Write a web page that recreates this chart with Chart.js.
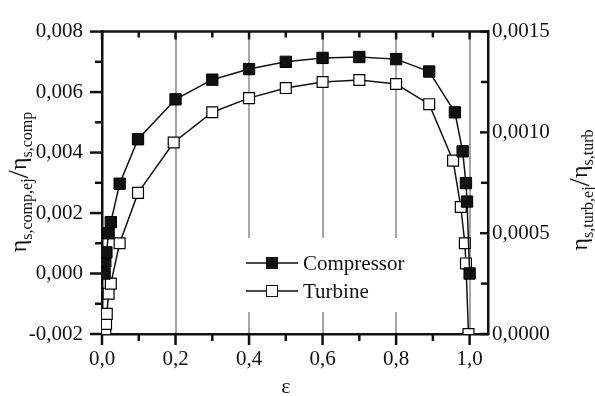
<!DOCTYPE html>
<html>
<head>
<meta charset="utf-8">
<script src="https://cdn.jsdelivr.net/npm/chart.js@4"></script>
<style>
  html, body { margin: 0; padding: 0; background: #fff; }
  #wrap { width: 595px; height: 396px; position: relative; }
</style>
</head>
<body>
<div id="wrap"><canvas id="chart" width="595" height="396"></canvas></div>
<script>
// ---------- data ----------
const epsComp = [0.007, 0.009, 0.012, 0.018, 0.024, 0.048, 0.098, 0.2, 0.3, 0.4, 0.5, 0.6, 0.7, 0.8, 0.89, 0.96, 0.981, 0.99, 0.993, 1.0];
const compValues = [0.0, 0.0004, 0.0007, 0.00133, 0.0017, 0.00297, 0.00444, 0.00576, 0.00641, 0.00676, 0.0070, 0.00713, 0.00716, 0.00709, 0.00668, 0.00533, 0.00404, 0.00299, 0.00238, 0.0];

const epsTurb = [0.009, 0.011, 0.013, 0.018, 0.024, 0.048, 0.098, 0.195, 0.3, 0.4, 0.5, 0.6, 0.7, 0.8, 0.89, 0.955, 0.976, 0.987, 0.99, 0.997];
const turbValues = [0.0, 0.00005, 0.0001, 0.0002, 0.00025, 0.00045, 0.0007, 0.00095, 0.0011, 0.00117, 0.00122, 0.00125, 0.00126, 0.00124, 0.00114, 0.00086, 0.00063, 0.00045, 0.00035, 0.0];

const legendLabels = ['Compressor', 'Turbine'];
const xTickLabels = ['0,0', '0,2', '0,4', '0,6', '0,8', '1,0'];
const leftTickLabels = ['-0,002', '0,000', '0,002', '0,004', '0,006', '0,008'];
const rightTickLabels = ['0,0000', '0,0005', '0,0010', '0,0015'];

const FONT = '"Liberation Serif", "Times New Roman", serif';
const ink = '#111';

function toPoints(xs, ys){ return xs.map((x, i) => ({ x, y: ys[i] })); }

// ---------- helpers for ticks / titles ----------
function drawSubTitle(ctx, cx, cy, main, sub1, sub2){
  ctx.save();
  ctx.translate(cx, cy);
  ctx.rotate(-Math.PI / 2);
  ctx.fillStyle = ink;
  ctx.textBaseline = 'alphabetic';
  ctx.textAlign = 'left';
  const big = `24px ${FONT}`, small = `16px ${FONT}`, slash = `30px ${FONT}`;
  const parts = [
    [main, big, 0], [sub1, small, 6], ['/', slash, 2], [main, big, 0], [sub2, small, 6]
  ];
  let total = 0;
  parts.forEach(p => { ctx.font = p[1]; total += ctx.measureText(p[0]).width; });
  let x = -total / 2;
  parts.forEach(p => {
    ctx.font = p[1];
    ctx.fillText(p[0], x, p[2]);
    x += ctx.measureText(p[0]).width;
  });
  ctx.restore();
}

const framePlugin = {
  id: 'frame',
  beforeDatasetsDraw(chart){
    // white box behind the legend hides the grid lines
    const { ctx } = chart;
    ctx.save();
    ctx.fillStyle = '#fff';
    ctx.fillRect(238, 238, 184, 74);
    ctx.restore();
  },
  afterDatasetsDraw(chart){
    const { ctx, chartArea: a, scales } = chart;
    const xs = scales.x, yl = scales.y, yr = scales.y1;
    ctx.save();
    ctx.strokeStyle = ink;
    ctx.lineCap = 'butt';

    // top frame line
    ctx.lineWidth = 2.5;
    ctx.beginPath();
    ctx.moveTo(a.left - 1, a.top);
    ctx.lineTo(a.right + 1, a.top);
    ctx.stroke();

    // x ticks: outward at bottom, inward at top
    for (let i = 0; i <= 10; i++){
      const px = xs.getPixelForValue(i / 10);
      const major = i % 2 === 0;
      ctx.lineWidth = 2.5;
      ctx.beginPath();
      ctx.moveTo(px, a.bottom); ctx.lineTo(px, a.bottom + (major ? 11 : 7));
      ctx.moveTo(px, a.top); ctx.lineTo(px, a.top + (major ? 8 : 6));
      ctx.stroke();
    }
    // left ticks outward
    for (let i = -2; i <= 8; i++){
      const py = yl.getPixelForValue(i / 1000);
      const major = (i + 2) % 2 === 0;
      ctx.beginPath();
      ctx.moveTo(a.left, py); ctx.lineTo(a.left - (major ? 12 : 7), py);
      ctx.stroke();
    }
    // right ticks inward
    for (let i = 0; i <= 6; i++){
      const py = yr.getPixelForValue(i * 0.00025);
      const major = i % 2 === 0;
      ctx.beginPath();
      ctx.moveTo(a.right, py); ctx.lineTo(a.right - (major ? 8 : 7), py);
      ctx.stroke();
    }

    // legend
    const rows = [
      { y: 263, fill: ink, label: legendLabels[0] },
      { y: 291, fill: '#fff', label: legendLabels[1] }
    ];
    rows.forEach(r => {
      ctx.lineWidth = 1.5;
      ctx.strokeStyle = ink;
      ctx.beginPath();
      ctx.moveTo(246, r.y); ctx.lineTo(298, r.y);
      ctx.stroke();
      ctx.fillStyle = r.fill;
      ctx.fillRect(266.5, r.y - 5.5, 11, 11);
      ctx.lineWidth = 1;
      ctx.strokeRect(266.5, r.y - 5.5, 11, 11);
      ctx.fillStyle = ink;
      ctx.font = `21px ${FONT}`;
      ctx.textBaseline = 'middle';
      ctx.textAlign = 'left';
      ctx.fillText(r.label, 303, r.y + 1);
    });

    // axis titles
    ctx.font = `22px ${FONT}`;
    ctx.textAlign = 'center';
    ctx.textBaseline = 'alphabetic';
    ctx.fillText('ε', xs.getPixelForValue(0.5), 393);
    ctx.restore();

    drawSubTitle(ctx, 26, 182, 'η', 's,comp,ej', 's,comp');
    drawSubTitle(ctx, 587, 190, 'η', 's,turb,ej', 's,turb');
  }
};

const tickFont = { family: FONT, size: 21 };

new Chart(document.getElementById('chart'), {
  type: 'line',
  data: {
    datasets: [
      {
        label: legendLabels[0],
        data: toPoints(epsComp, compValues),
        yAxisID: 'y',
        borderColor: ink,
        borderWidth: 1.5,
        pointStyle: 'rect',
        pointRadius: 8,
        pointBackgroundColor: ink,
        pointBorderColor: '#000',
        pointBorderWidth: 1,
        tension: 0
      },
      {
        label: legendLabels[1],
        data: toPoints(epsTurb, turbValues),
        yAxisID: 'y1',
        borderColor: ink,
        borderWidth: 1.5,
        pointStyle: 'rect',
        pointRadius: 7.7,
        pointBackgroundColor: '#fff',
        pointBorderColor: '#000',
        pointBorderWidth: 1.2,
        tension: 0
      }
    ]
  },
  options: {
    responsive: false,
    animation: false,
    layout: { padding: { top: 23, left: 0, right: 0, bottom: 0 } },
    plugins: { legend: { display: false }, tooltip: { enabled: false } },
    scales: {
      x: {
        type: 'linear',
        min: 0,
        max: 1.05,
        afterFit: s => { s.height = 62; },
        ticks: {
          stepSize: 0.1,
          includeBounds: false,
          autoSkip: false,
          maxRotation: 0,
          padding: 13,
          color: ink,
          font: tickFont,
          callback: v => {
            const k = Math.round(v * 10);
            return (k % 2 === 0 && k <= 10) ? xTickLabels[k / 2] : '';
          }
        },
        grid: {
          drawTicks: false,
          lineWidth: 2,
          color: c => {
            const k = Math.round(c.tick.value * 10);
            return (k > 0 && k % 2 === 0 && k <= 10) ? '#a6a6a6' : 'transparent';
          }
        },
        border: { display: true, color: ink, width: 2.5 }
      },
      y: {
        position: 'left',
        min: -0.002,
        max: 0.008,
        afterFit: s => { s.width = 102; },
        ticks: {
          stepSize: 0.001,
          includeBounds: false,
          autoSkip: false,
          padding: 19,
          color: ink,
          font: tickFont,
          callback: v => {
            const k = Math.round(v * 1000);
            return ((k + 2) % 2 === 0) ? leftTickLabels[(k + 2) / 2] : '';
          }
        },
        grid: { display: false, drawTicks: false },
        border: { display: true, color: ink, width: 2.5 }
      },
      y1: {
        position: 'right',
        min: 0,
        max: 0.0015,
        afterFit: s => { s.width = 107; },
        ticks: {
          stepSize: 0.00025,
          includeBounds: false,
          autoSkip: false,
          padding: 4,
          color: ink,
          font: tickFont,
          callback: v => {
            const k = Math.round(v / 0.00025);
            return (k % 2 === 0) ? rightTickLabels[k / 2] : '';
          }
        },
        grid: { display: false, drawTicks: false },
        border: { display: true, color: ink, width: 2.5 }
      }
    }
  },
  plugins: [framePlugin]
});
</script>
</body>
</html>
